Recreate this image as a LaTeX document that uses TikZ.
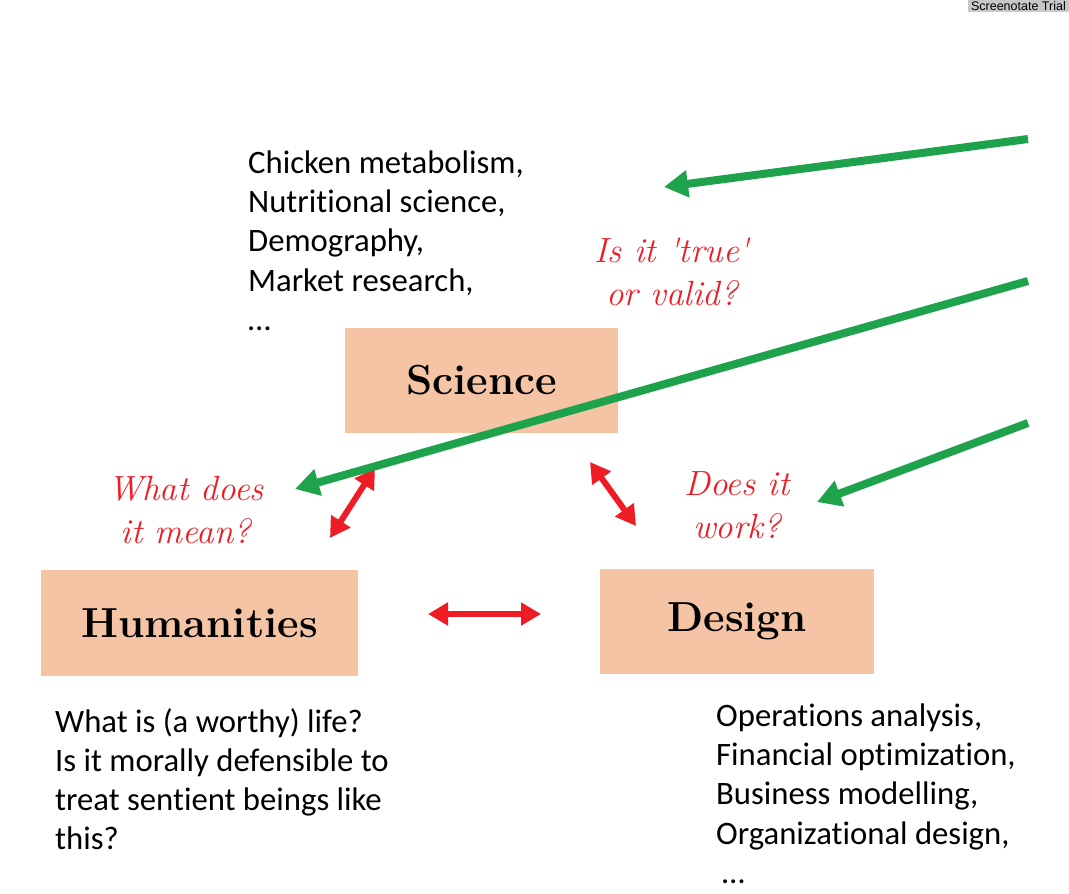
\documentclass[tikz,border=0pt]{standalone}
\usepackage{fontspec}
\newfontfamily\listfont[Ligatures=NoCommon]{Carlito}
\newfontfamily\markfont{Liberation Sans}
\usetikzlibrary{arrows.meta}
\definecolor{boxfill}{HTML}{F4C4A5}
\definecolor{askred}{HTML}{EE1C25}
\definecolor{pointgreen}{HTML}{1EA24B}
\definecolor{markgray}{HTML}{C8C8C8}
\tikzset{
  field/.style={fill=boxfill, draw=none, inner sep=0pt, font=\fontsize{42}{50}\selectfont\bfseries},
  question/.style={text=askred, align=center, inner sep=0pt, font=\fontsize{35}{43}\selectfont\itshape},
  topics/.style={align=left, anchor=north west, inner sep=0pt, font=\listfont\fontsize{32.7}{39.2}\selectfont},
  link/.style={draw=askred, line width=6pt, {Triangle[length=20pt,width=22pt]}-{Triangle[length=20pt,width=22pt]}},
  pointer/.style={draw=pointgreen, line width=8pt, -{Triangle[length=24pt,width=26pt]}}
}
\begin{document}
\begin{tikzpicture}[x=1pt,y=-1pt]
\useasboundingbox (0,0) rectangle (1069,894);
\fill[white] (0,0) rectangle (1069,894);

% trial mark in the corner
\node[fill=markgray, inner xsep=3pt, inner ysep=1.5pt, anchor=north east, font=\markfont\fontsize{12.5}{13}\selectfont] (mark) at (1069,0) {Screenotate Trial};

% the three fields
\node[field, minimum width=273pt, minimum height=105pt] (sci) at (481.5,380.5) {Science};
\node[field, minimum width=317pt, minimum height=106pt] (hum) at (199.5,623) {Humanities};
\node[field, minimum width=274pt, minimum height=105pt] (des) at (737,621.5) {Design};

% questions each field asks
\node[question] (qsci) at (672,272) {Is it \textquotesingle true\textquotesingle\\or valid?};
\node[question] (qhum) at (186,510) {What does\\it mean?};
\node[question] (qdes) at (737,505) {Does it\\work?};

% example topics
\node[topics] (tsci) at (248,150.5) {Chicken metabolism,\\Nutritional science,\\Demography,\\Market research,\\\ldots};
\node[topics] (thum) at (55,708) {What is (a worthy) life?\\Is it morally defensible to\\treat sentient beings like\\this?};
\node[topics] (tdes) at (716,703.5) {Operations analysis,\\Financial optimization,\\Business modelling,\\Organizational design,\\\hspace*{6pt}\ldots};

% links between the fields
\coordinate (l1a) at (375,468);
\coordinate (l1b) at (330,538);
\coordinate (l2a) at (590,462);
\coordinate (l2b) at (636,526);
\coordinate (l3a) at (428,614);
\coordinate (l3b) at (541,614);
\draw[link] (l1a) -- (l1b);
\draw[link] (l2a) -- (l2b);
\draw[link] (l3a) -- (l3b);

% pointers from the right edge
\coordinate (g1s) at (1028,139);
\coordinate (g1e) at (664,187);
\coordinate (g2s) at (1028,281);
\coordinate (g2e) at (295,489);
\coordinate (g3s) at (1028,423);
\coordinate (g3e) at (817,502);
\draw[pointer] (g1s) -- (g1e);
\draw[pointer] (g2s) -- (g2e);
\draw[pointer] (g3s) -- (g3e);
\end{tikzpicture}
\end{document}
